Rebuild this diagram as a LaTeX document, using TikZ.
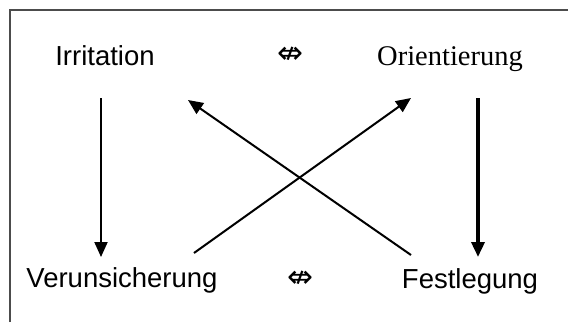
\documentclass[tikz,border=0pt]{standalone}
\usepackage{fontspec}
\setmainfont{Liberation Sans}
\newfontfamily\serifface{Liberation Serif}
\newfontfamily\symface{DejaVu Sans}
\usetikzlibrary{arrows.meta,calc}
\tikzset{
  lbl/.style={inner sep=0pt, anchor=base, font=\fontsize{27.5}{31}\selectfont},
  slbl/.style={inner sep=0pt, anchor=base, font=\serifface\fontsize{28.5}{32}\selectfont},
  sym/.style={inner sep=0pt, font=\symface\fontsize{31}{34}\selectfont},
  arr/.style={line width=2pt, -{Triangle[length=15pt,width=13pt]}},
  thickarr/.style={line width=3.5pt, -{Triangle[length=15pt,width=13pt]}},
  frame/.style={line width=2.2pt, draw=black!70}
}
\begin{document}
\begin{tikzpicture}[x=1pt,y=-1pt]
\useasboundingbox (0,0) rectangle (568,322);
\fill[white] (0,0) rectangle (568,322);
\draw[frame] (10,322) -- (10,10) -- (568,10);

\node[lbl] (irr) at (105,65) {Irritation};
\node[slbl] (ori) at (450,65) {Orientierung};
\node[lbl] (ver) at (122,287) {Verunsicherung};
\node[lbl] (fes) at (470,288) {Festlegung};
\node[sym] (eqt) at (290,55) {⇎};
\node[sym] (eqb) at (300,279) {⇎};

\draw[arr] ($(irr.base)+(-4,33)$) -- ($(ver.base)+(-21,-30)$);
\draw[thickarr] ($(ori.base)+(28,33)$) -- ($(fes.base)+(8,-31)$);
\draw[arr] ($(ver.base)+(72,-34)$) -- ($(ori.base)+(-39,33)$);
\draw[arr] ($(fes.base)+(-59,-33)$) -- ($(irr.base)+(83,35)$);
\end{tikzpicture}
\end{document}
